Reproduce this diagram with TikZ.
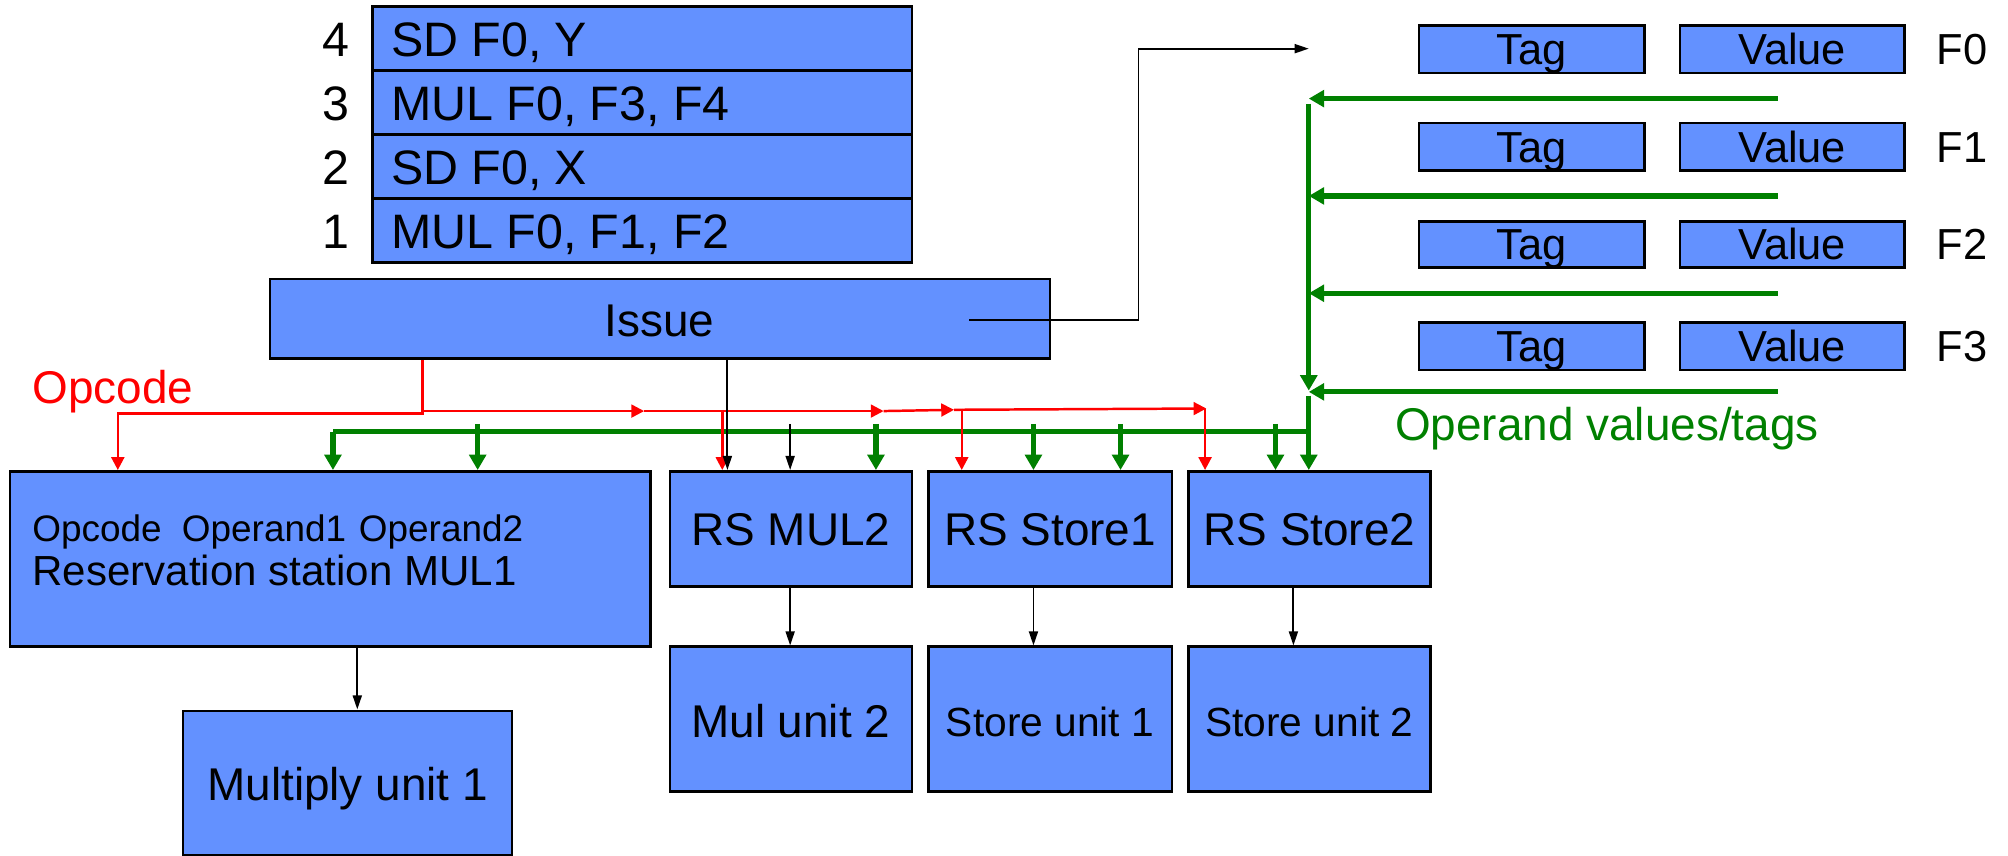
\documentclass[tikz,border=0pt]{standalone}
\usepackage{fontspec}
\setmainfont{Liberation Sans}
\usetikzlibrary{arrows.meta,fit,calc}
\definecolor{boxblue}{RGB}{99,145,255}
\definecolor{grn}{RGB}{0,128,0}
\begin{document}
\begin{tikzpicture}[x=0.02cm,y=-0.02cm,
  box/.style={draw=black, line width=1.1pt, fill=boxblue, inner sep=0pt},
  tx/.style={inner sep=0pt, anchor=base},
  fA/.style={font=\fontsize{21.5}{24}\selectfont},
  fB/.style={font=\fontsize{20.4}{24}\selectfont},
  fC/.style={font=\fontsize{18.7}{22}\selectfont},
  fD/.style={font=\fontsize{18.1}{22}\selectfont},
  fE/.style={font=\fontsize{16.4}{20}\selectfont},
  fF/.style={font=\fontsize{19.3}{22}\selectfont},
  grnline/.style={draw=grn, line width=2.3pt},
  grnarrow/.style={grnline, -{Triangle[length=0.24cm,width=0.26cm]}},
  redarrow/.style={draw=red, line width=1.1pt, -{Triangle[length=0.2cm,width=0.2cm]}},
  blkarrow/.style={draw=black, line width=0.85pt, -{Triangle[length=0.22cm,width=0.14cm]}}
]
\useasboundingbox (0,0) rectangle (1568,668);

% instruction queue
\node[box, fit={(291,5) (712,55)}] (q4) {};
\node[box, fit={(291,55) (712,105)}] (q3) {};
\node[box, fit={(291,105) (712,155)}] (q2) {};
\node[box, fit={(291,155) (712,205)}] (q1) {};
\node[tx, fA, anchor=base west] (t4) at (305,44) {SD F0, Y};
\node[tx, fA, anchor=base west] (t3) at (305,94) {MUL F0, F3, F4};
\node[tx, fA, anchor=base west] (t2) at (305,144) {SD F0, X};
\node[tx, fA, anchor=base west] (t1) at (305,194) {MUL F0, F1, F2};
\node[tx, fA] (n4) at (262,44) {4};
\node[tx, fA] (n3) at (262,94) {3};
\node[tx, fA] (n2) at (262,144) {2};
\node[tx, fA] (n1) at (262,194) {1};

% issue
\node[box, fit={(211,218) (820,280)}] (Issue) {};
\node[tx, fB] (tIssue) at (515,263) {Issue};

% reservation stations and units
\node[box, fit={(8,368) (508,505)}] (RS1) {};
\node[tx, fE, anchor=base west] (tRS1a) at (25,423) {Opcode\hspace{0.55em}Operand1\hspace{0.35em}Operand2};
\node[tx, fC, anchor=base west] (tRS1b) at (25,457) {Reservation station MUL1};
\node[box, fit={(143,555) (400,668)}] (MU1) {};
\node[tx, fB] (tMU1) at (271.5,625) {Multiply unit 1};

\node[box, fit={(523,368) (712,458)}] (RS2) {};
\node[box, fit={(725,368) (915,458)}] (RS3) {};
\node[box, fit={(928,368) (1117,458)}] (RS4) {};
\node[tx, fB] (tRS2) at (617.5,426) {RS MUL2};
\node[tx, fB] (tRS3) at (820,426) {RS Store1};
\node[tx, fB] (tRS4) at (1022.5,426) {RS Store2};

\node[box, fit={(523,505) (712,618)}] (MU2) {};
\node[box, fit={(725,505) (915,618)}] (SU1) {};
\node[box, fit={(928,505) (1117,618)}] (SU2) {};
\node[tx, fB] (tMU2) at (617.5,576) {Mul unit 2};
\node[tx, fD] (tSU1) at (820,575) {Store unit 1};
\node[tx, fD] (tSU2) at (1022.5,575) {Store unit 2};

% register file
\foreach \r/\a/\b/\bl in {0/20/57/50, 1/96/133/127, 2/173/209/203, 3/252/289/282} {
  \node[box, fit={(1108,\a) (1284,\b)}] (tag\r) {};
  \node[box, fit={(1312,\a) (1487,\b)}] (val\r) {};
  \node[tx, fF] (ttag\r) at (1196,\bl) {Tag};
  \node[tx, fF] (tval\r) at (1399.5,\bl) {Value};
  \node[tx, fF, anchor=base west] (F\r) at (1512,\bl) {F\r};
}

% labels
\node[tx, fB, anchor=base west, text=red] (lOp) at (25,315) {Opcode};
\node[tx, fB, anchor=base west, text=grn] (lOV) at (1089,344) {Operand values/tags};

% green result bus
\foreach \y [count=\i] in {77,153,229,306} {
  \coordinate (gs\i) at (1388,\y);
  \coordinate (ge\i) at (1022,\y);
  \draw[grnarrow] (gs\i) -- (ge\i);
}
\coordinate (gvt) at (1022,81);
\coordinate (gvb) at (1022,305);
\draw[grnarrow] (gvt) -- (gvb);
\coordinate (gv2) at (1022,309);
\draw[grnarrow] (gv2) -- (gv2 |- RS4.north);
\coordinate (bus) at (1022,337);
\coordinate (busL) at (260,337);
\draw[grnline] (bus) -- (busL);
\draw[grnarrow] (busL) -- (busL |- RS1.north);
\foreach \x in {373,684,807,875,996} {
  \coordinate (gd\x) at (\x,331);
  \draw[grnarrow] (gd\x) -- (gd\x |- RS1.north);
}

% red opcode lines
\coordinate (r0) at (330,323);
\coordinate (rL) at (92,323);
\draw[redarrow] (r0 |- Issue.south) -- (r0) -- (rL) -- (rL |- RS1.north);
\coordinate (r1) at (330,321);
\coordinate (r2) at (503,321);
\coordinate (r3) at (690,321);
\coordinate (r4) at (745,320);
\coordinate (r5) at (942,319);
\draw[redarrow] (r1) -- (r2);
\draw[redarrow] (r2) -- (r3);
\draw[redarrow] (r3) -- (r4);
\draw[redarrow] (r4) -- (r5);
\foreach \x/\y in {564/320, 751/319, 941/319} {
  \coordinate (rd\x) at (\x,\y);
  \draw[redarrow] (rd\x) -- (rd\x |- RS1.north);
}

% black lines
\coordinate (bI) at (568,300);
\draw[blkarrow] (bI |- Issue.south) -- (bI |- RS2.north);
\coordinate (b2) at (617,331);
\draw[blkarrow] (b2) -- (b2 |- RS2.north);
\coordinate (bs) at (757,250);
\coordinate (bc) at (889,250);
\coordinate (bt) at (1022,38);
\draw[blkarrow] (bs) -- (bc) -- (bc |- bt) -- (bt);
\coordinate (d1) at (279,0);
\coordinate (d2) at (617,0);
\coordinate (d3) at (807,0);
\coordinate (d4) at (1010,0);
\draw[blkarrow] (d1 |- RS1.south) -- (d1 |- MU1.north);
\draw[blkarrow] (d2 |- RS2.south) -- (d2 |- MU2.north);
\draw[blkarrow] (d3 |- RS3.south) -- (d3 |- SU1.north);
\draw[blkarrow] (d4 |- RS4.south) -- (d4 |- SU2.north);
\end{tikzpicture}
\end{document}
